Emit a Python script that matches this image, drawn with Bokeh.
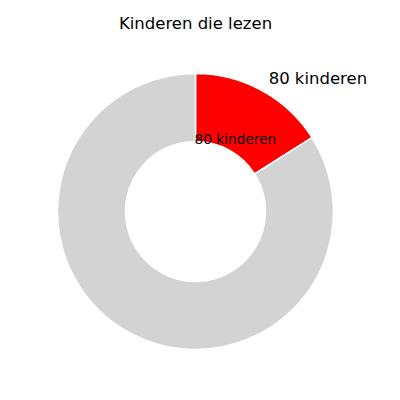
import math
from bokeh.plotting import figure
from bokeh.models import ColumnDataSource, Range1d
from bokeh.core.properties import value
from bokeh.embed import file_html
from bokeh.resources import INLINE

title_text = "Kinderen die lezen"
categories = ["leest", "leest niet"]
counts = [80, 420]
colors = ["#ff0000", "#d3d3d3"]
label_text = "80 kinderen"

W, H = 384, 384
cx_px, cy_px = 195, 211  # center of the pie in frame pixels
R_OUT, R_IN = 138, 70

p = figure(width=W, height=H, output_backend="svg", toolbar_location=None,
           x_range=Range1d(-cx_px, W - cx_px), y_range=Range1d(-(H - cy_px), cy_px),
           min_border=0, outline_line_color=None)
p.axis.visible = False
p.grid.visible = False
p.background_fill_color = "white"

total = sum(counts)
starts, ends = [], []
a = math.pi / 2
for c in counts:
    ang = 2 * math.pi * c / total
    starts.append(a)
    ends.append(a - ang)
    a -= ang

src = ColumnDataSource(dict(cat=categories, start=starts, end=ends, color=colors))
p.annular_wedge(x=0, y=0, inner_radius=R_IN, outer_radius=R_OUT,
                start_angle="start", end_angle="end", direction="clock",
                fill_color="color", line_color="white", line_width=1.5, source=src)

# labels for the first slice
mid = (starts[0] + ends[0]) / 2
p.text(x=[1.1 * R_OUT * math.cos(mid)], y=[1.1 * R_OUT * math.sin(mid)], text=[label_text],
       text_font=value("DejaVu Sans"), text_font_size="16.5px", text_color="#000000",
       text_align="left", text_baseline="middle")
p.text(x=[0.6 * R_OUT * math.cos(mid)], y=[0.6 * R_OUT * math.sin(mid)], text=[label_text],
       text_font=value("DejaVu Sans"), text_font_size="13.7px", text_color="#000000",
       text_align="center", text_baseline="middle")

# title
p.text(x=[0], y=[cy_px - 23], text=[title_text],
       text_font=value("DejaVu Sans"), text_font_size="16.5px", text_color="#000000",
       text_align="center", text_baseline="middle")

open("out.html", "w").write(file_html(p, INLINE))
